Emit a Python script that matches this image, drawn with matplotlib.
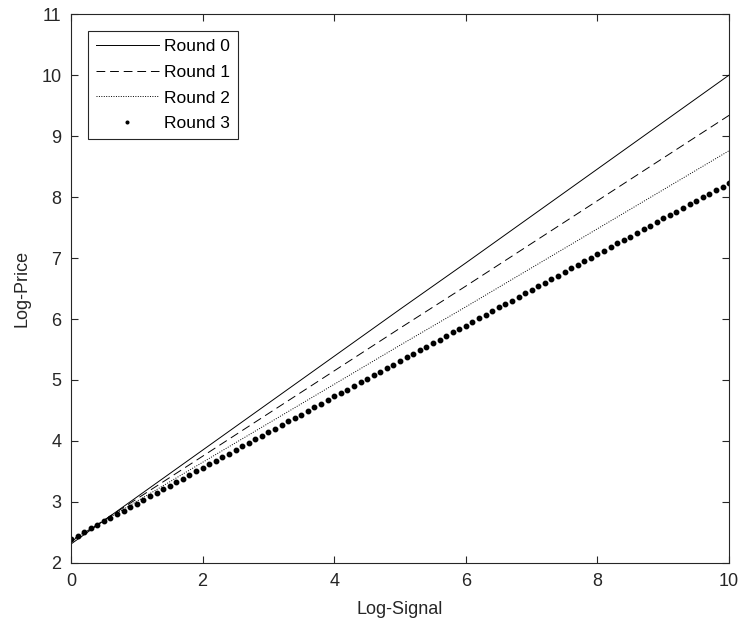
import numpy as np
import matplotlib.pyplot as plt

plt.rcParams['font.family'] = ['Liberation Sans', 'DejaVu Sans']

# log-signal grid for the three line series
signal = [0, 1, 2, 3, 4, 5, 6, 7, 8, 9, 10]
round0 = [2.31, 3.08, 3.85, 4.62, 5.39, 6.16, 6.92, 7.69, 8.46, 9.23, 10.00]
round1 = [2.35, 3.05, 3.75, 4.45, 5.15, 5.85, 6.54, 7.24, 7.94, 8.64, 9.34]
round2 = [2.37, 3.01, 3.65, 4.29, 4.93, 5.57, 6.20, 6.84, 7.48, 8.12, 8.76]

# round 3 is sampled on a finer grid (one dot per 0.1)
signal_fine = [i / 10 for i in range(101)]
round3 = [
    2.39, 2.45, 2.51, 2.57, 2.62, 2.68, 2.74, 2.80, 2.86, 2.92,
    2.97, 3.03, 3.09, 3.15, 3.21, 3.27, 3.32, 3.38, 3.44, 3.50,
    3.56, 3.62, 3.67, 3.73, 3.79, 3.85, 3.91, 3.97, 4.03, 4.08,
    4.14, 4.20, 4.26, 4.32, 4.38, 4.43, 4.49, 4.55, 4.61, 4.67,
    4.73, 4.78, 4.84, 4.90, 4.96, 5.02, 5.08, 5.13, 5.19, 5.25,
    5.31, 5.37, 5.43, 5.49, 5.54, 5.60, 5.66, 5.72, 5.78, 5.84,
    5.89, 5.95, 6.01, 6.07, 6.13, 6.19, 6.24, 6.30, 6.36, 6.42,
    6.48, 6.54, 6.59, 6.65, 6.71, 6.77, 6.83, 6.89, 6.95, 7.00,
    7.06, 7.12, 7.18, 7.24, 7.30, 7.35, 7.41, 7.47, 7.53, 7.59,
    7.65, 7.70, 7.76, 7.82, 7.88, 7.94, 8.00, 8.05, 8.11, 8.17,
    8.23,
]

fig = plt.figure(figsize=(7.44, 6.39), dpi=100)
ax = fig.add_axes([0.0954, 0.119, 0.8846, 0.859])

ax.plot(signal, round0, color='black', lw=0.7, label='Round 0')
ax.plot(signal, round1, color='black', lw=0.7, dashes=(9, 5), label='Round 1')
ax.plot(signal, round2, color='black', lw=0.7, dashes=(1, 1.5), label='Round 2')
ax.plot(signal_fine, round3, color='black', ls='none', marker='o', ms=3.2,
        label='Round 3')

ax.set_xlim(0, 10)
ax.set_ylim(2, 11)
ax.set_xticks([0, 2, 4, 6, 8, 10])
ax.set_yticks(range(2, 12))

axcol = '#262626'
for sp in ax.spines.values():
    sp.set_color(axcol)
    sp.set_linewidth(0.8)
ax.tick_params(direction='in', top=True, right=True, length=5, width=0.8,
               color=axcol, labelcolor=axcol, labelsize=13, pad=7)

ax.set_xlabel('Log-Signal', fontsize=13, color=axcol, labelpad=8)
ax.set_ylabel('Log-Price', fontsize=13, color=axcol, labelpad=8)

leg = ax.legend(loc='upper left', fontsize=12.5, handlelength=3.6,
                fancybox=False, edgecolor=axcol, framealpha=1,
                borderaxespad=1.0, labelspacing=0.6, handletextpad=0.3,
                borderpad=0.45, markerscale=0.6)
leg.get_frame().set_linewidth(0.8)

fig.savefig('out.png', dpi=100)
